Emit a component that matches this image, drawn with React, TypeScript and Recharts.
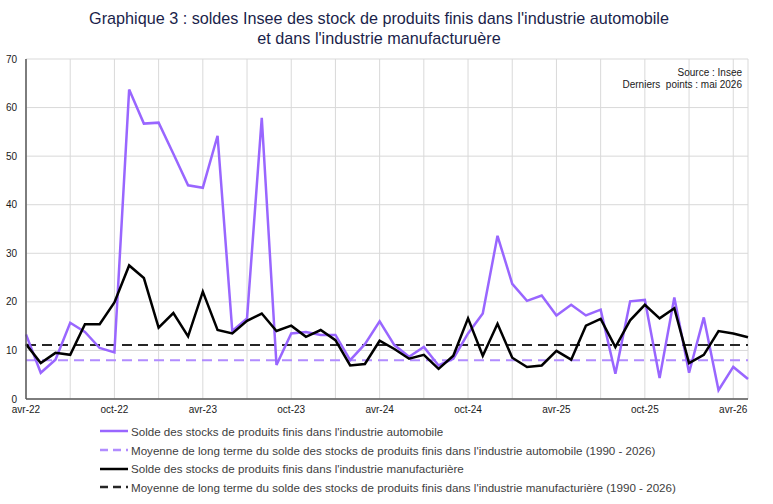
import React from 'react';
import { LineChart, Line, XAxis, YAxis, CartesianGrid } from 'recharts';

// Month labels, avril 2022 to mai 2026
const months = [
  'avr-22', 'mai-22', 'juin-22', 'juil-22', 'août-22', 'sept-22', 'oct-22', 'nov-22', 'déc-22',
  'janv-23', 'févr-23', 'mars-23', 'avr-23', 'mai-23', 'juin-23', 'juil-23', 'août-23', 'sept-23',
  'oct-23', 'nov-23', 'déc-23', 'janv-24', 'févr-24', 'mars-24', 'avr-24', 'mai-24', 'juin-24',
  'juil-24', 'août-24', 'sept-24', 'oct-24', 'nov-24', 'déc-24', 'janv-25', 'févr-25', 'mars-25',
  'avr-25', 'mai-25', 'juin-25', 'juil-25', 'août-25', 'sept-25', 'oct-25', 'nov-25', 'déc-25',
  'janv-26', 'févr-26', 'mars-26', 'avr-26', 'mai-26',
];

// Solde des stocks de produits finis, industrie automobile
const stocksAuto = [
  13.3, 5.4, 8.1, 15.7, 13.8, 10.5, 9.6, 63.7, 56.7, 56.9,
  50.5, 44.0, 43.5, 54.2, 14.0, 16.6, 57.9, 7.0, 13.5, 13.8,
  13.2, 13.2, 8.0, 11.3, 16.0, 11.1, 8.7, 10.7, 6.9, 8.3,
  13.5, 17.6, 33.6, 23.7, 20.2, 21.3, 17.2, 19.4, 17.2, 18.4,
  5.2, 20.1, 20.4, 4.3, 20.9, 5.4, 16.8, 1.8, 6.6, 4.1,
];

// Solde des stocks de produits finis, industrie manufacturière
const stocksManuf = [
  11.3, 7.4, 9.5, 9.1, 15.4, 15.4, 19.9, 27.5, 24.9, 14.7,
  17.7, 12.9, 22.1, 14.2, 13.5, 16.1, 17.6, 14.0, 15.1, 12.8,
  14.2, 12.1, 6.9, 7.2, 12.0, 10.3, 8.3, 9.1, 6.2, 8.9,
  16.6, 8.9, 15.5, 8.5, 6.6, 6.9, 9.9, 8.1, 15.1, 16.5,
  10.7, 16.2, 19.4, 16.6, 18.7, 7.4, 9.1, 14.0, 13.5, 12.7,
];

// Moyennes de long terme (1990 - 2026)
const moyenneAuto = 8.0;
const moyenneManuf = 11.1;

const yTicks = [0, 10, 20, 30, 40, 50, 60, 70];
const shownLabels = ['avr', 'oct'];

const PURPLE = '#9966FF';
const PURPLE_LIGHT = '#B18CFF';
const BLACK = '#000000';
const BLACK_DASH = '#262626';
const GRID = '#D9D9D9';
const FRAME = '#595959';

const data = months.map((m, i) => ({
  mois: m,
  auto: stocksAuto[i],
  moyAuto: moyenneAuto,
  manuf: stocksManuf[i],
  moyManuf: moyenneManuf,
}));

const legendItems = [
  { label: "Solde des stocks de produits finis dans l'industrie automobile", color: PURPLE, dash: undefined },
  { label: "Moyenne de long terme du solde des stocks de produits finis dans l'industrie automobile (1990 - 2026)", color: PURPLE_LIGHT, dash: '8 5' },
  { label: "Solde des stocks de produits finis dans l'industrie manufacturière", color: BLACK, dash: undefined },
  { label: "Moyenne de long terme du solde des stocks de produits finis dans l'industrie manufacturière (1990 - 2026)", color: BLACK_DASH, dash: '8 5' },
];

const FONT = '"Liberation Sans", Arial, sans-serif';

export default function App() {
  return (
    <div style={{ position: 'absolute', left: 0, top: 0, width: 773, height: 504, background: '#fff', fontFamily: FONT }}>
      <div style={{ position: 'absolute', left: 0, top: 8, width: 758, textAlign: 'center', fontSize: 16.2, lineHeight: '20px', color: '#1B1F4B' }}>
        <div>Graphique 3 : soldes Insee des stock de produits finis dans l'industrie automobile</div>
        <div>et dans l'industrie manufacturuère</div>
      </div>

      <div style={{ position: 'absolute', left: 0, top: 0 }}>
        <LineChart width={773} height={504} data={data} margin={{ top: 59, right: 25, bottom: 75, left: 0 }}>
          <CartesianGrid stroke={GRID} strokeWidth={1} />
          <XAxis
            dataKey="mois"
            interval={2}
            tickSize={0}
            tickMargin={7}
            height={30}
            axisLine={{ stroke: FRAME, strokeWidth: 1.5 }}
            tick={{ fontSize: 10, fill: '#1a1a1a', fontFamily: FONT }}
            tickFormatter={(v: string) => (shownLabels.includes(v.split('-')[0]) ? v : '')}
          />
          <XAxis xAxisId="top" dataKey="mois" orientation="top" height={0} tick={false} tickLine={false} axisLine={{ stroke: FRAME, strokeWidth: 1.5 }} />
          <YAxis
            domain={[0, 70]}
            ticks={yTicks}
            width={26}
            tickSize={0}
            tickMargin={9}
            axisLine={{ stroke: FRAME, strokeWidth: 1.5 }}
            tick={{ fontSize: 10, fill: '#1a1a1a', fontFamily: FONT }}
          />
          <YAxis yAxisId="right" orientation="right" width={0} domain={[0, 70]} tick={false} tickLine={false} axisLine={{ stroke: FRAME, strokeWidth: 1.5 }} />
          <Line type="linear" dataKey="moyAuto" stroke={PURPLE_LIGHT} strokeWidth={2} strokeDasharray="10 6" dot={false} isAnimationActive={false} />
          <Line type="linear" dataKey="moyManuf" stroke={BLACK_DASH} strokeWidth={2} strokeDasharray="10 6" dot={false} isAnimationActive={false} />
          <Line type="linear" dataKey="auto" stroke={PURPLE} strokeWidth={2.5} dot={false} isAnimationActive={false} />
          <Line type="linear" dataKey="manuf" stroke={BLACK} strokeWidth={2.5} dot={false} isAnimationActive={false} />
        </LineChart>
      </div>

      <div style={{ position: 'absolute', right: 31, top: 67, textAlign: 'right', fontSize: 10, lineHeight: '11.6px', color: '#1a1a1a', whiteSpace: 'pre' }}>
        <div>Source : Insee</div>
        <div>Derniers  points : mai 2026</div>
      </div>

      <div style={{ position: 'absolute', left: 100, top: 422 }}>
        {legendItems.map((it) => (
          <div key={it.label} style={{ display: 'flex', alignItems: 'center', height: 18.7 }}>
            <svg width={28} height={10} style={{ display: 'block' }}>
              <line x1={0} y1={5} x2={28} y2={5} stroke={it.color} strokeWidth={2.5} strokeDasharray={it.dash} />
            </svg>
            <span style={{ marginLeft: 3, fontSize: 11.6, color: '#404040', whiteSpace: 'nowrap' }}>{it.label}</span>
          </div>
        ))}
      </div>
    </div>
  );
}
